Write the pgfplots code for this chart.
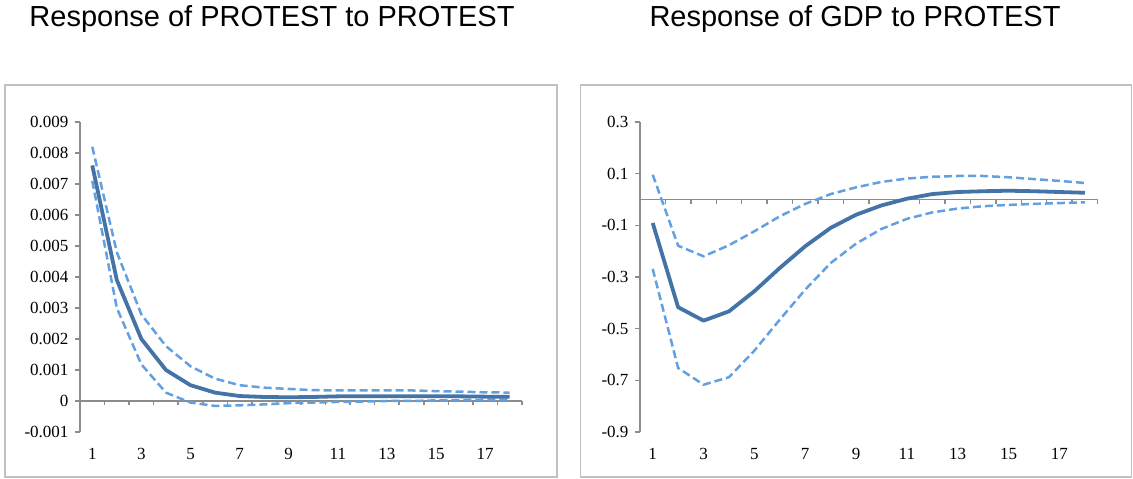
\documentclass[border=0pt]{standalone}
\usepackage{pgfplots}
\pgfplotsset{compat=1.18}
\usepackage{fontspec}
\setmainfont{Liberation Sans}
\newfontfamily\tickfont{Liberation Serif}
\definecolor{mainblue}{RGB}{68,115,168}
\definecolor{bandblue}{RGB}{98,160,224}
\definecolor{axgray}{RGB}{140,140,140}
\definecolor{framegray}{RGB}{192,192,192}
\begin{document}
\begin{tikzpicture}
\useasboundingbox (0pt,0pt) rectangle (1133pt,479pt);
\draw[framegray, line width=1.5pt] (5pt,2pt) rectangle (557pt,394pt);
\draw[framegray, line width=1.5pt] (580.5pt,2pt) rectangle (1131.5pt,394pt);
\node[anchor=base, font=\fontsize{29}{29}\selectfont] at (272pt,452pt) {Response of PROTEST to PROTEST};
\node[anchor=base, font=\fontsize{29}{29}\selectfont] at (855pt,452pt) {Response of GDP to PROTEST};
\pgfplotsset{
  myirf/.style={
    scale only axis,
    anchor=south west,
    xmin=0.5, xmax=18.5,
    axis y line*=left,
    axis x line*=bottom,
    x axis line style={draw=none},
    y axis line style={axgray, line width=1.5pt},
    xtick={1,3,5,7,9,11,13,15,17},
    xticklabels={1,3,5,7,9,11,13,15,17},
    scaled y ticks=false,
    tick align=outside,
    major tick length=5pt,
    every tick/.style={axgray, line width=1.5pt},
    every major x tick/.append style={draw=none},
    tick label style={font=\tickfont\fontsize{17}{17}\selectfont, text=black},
    yticklabel style={xshift=-3pt},
    xticklabel style={yshift=-8pt},
    clip=false,
  },
  mainline/.style={mainblue, line width=3.8pt, line join=round, mark=none},
  bandline/.style={bandblue, line width=2.5pt, dash pattern=on 8pt off 4pt, mark=none},
}
\begin{axis}[myirf, at={(80pt,47pt)}, width=442pt, height=310pt,
  ymin=-0.001, ymax=0.009,
  ytick={-0.001,0,0.001,0.002,0.003,0.004,0.005,0.006,0.007,0.008,0.009},
  yticklabels={-0.001,0,0.001,0.002,0.003,0.004,0.005,0.006,0.007,0.008,0.009},
]
\draw[axgray, line width=1.5pt] (axis cs:0.5,0) -- (axis cs:18.5,0);
\pgfplotsinvokeforeach{1.5,2.5,3.5,4.5,5.5,6.5,7.5,8.5,9.5,10.5,11.5,12.5,13.5,14.5,15.5,16.5,17.5,18.5}{
  \draw[axgray, line width=1.5pt] (axis cs:#1,0) -- ++(0pt,-4.5pt);
}
\addplot[bandline] coordinates {(1,0.0082)(2,0.0048)(3,0.00279)(4,0.00177)(5,0.00112)(6,0.00072)(7,0.00051)(8,0.00043)(9,0.00039)(10,0.00035)(11,0.00034)(12,0.00034)(13,0.00034)(14,0.00034)(15,0.00032)(16,0.00030)(17,0.00028)(18,0.00027)};
\addplot[bandline] coordinates {(1,0.0071)(2,0.0030)(3,0.00118)(4,0.00027)(5,-0.00005)(6,-0.00016)(7,-0.00014)(8,-0.00011)(9,-0.00007)(10,-0.00005)(11,-0.00003)(12,-0.00002)(13,0.0)(14,0.0)(15,0.00002)(16,0.00003)(17,0.00004)(18,0.00005)};
\addplot[mainline] coordinates {(1,0.0076)(2,0.0039)(3,0.0020)(4,0.0010)(5,0.00051)(6,0.00027)(7,0.00016)(8,0.00013)(9,0.00012)(10,0.00013)(11,0.00015)(12,0.00015)(13,0.00015)(14,0.00015)(15,0.00015)(16,0.00015)(17,0.00014)(18,0.00014)};
\end{axis}
\begin{axis}[myirf, at={(640pt,47pt)}, width=457.5pt, height=310pt,
  ymin=-0.9, ymax=0.3,
  ytick={-0.9,-0.7,-0.5,-0.3,-0.1,0.1,0.3},
  yticklabels={-0.9,-0.7,-0.5,-0.3,-0.1,0.1,0.3},
]
\draw[axgray, line width=1.5pt] (axis cs:0.5,0) -- (axis cs:18.5,0);
\pgfplotsinvokeforeach{1.5,2.5,3.5,4.5,5.5,6.5,7.5,8.5,9.5,10.5,11.5,12.5,13.5,14.5,15.5,16.5,17.5,18.5}{
  \draw[axgray, line width=1.5pt] (axis cs:#1,0) -- ++(0pt,-4.5pt);
}
\addplot[bandline] coordinates {(1,0.096)(2,-0.179)(3,-0.220)(4,-0.177)(5,-0.123)(6,-0.065)(7,-0.017)(8,0.021)(9,0.047)(10,0.068)(11,0.081)(12,0.088)(13,0.091)(14,0.091)(15,0.086)(16,0.079)(17,0.072)(18,0.064)};
\addplot[bandline] coordinates {(1,-0.269)(2,-0.652)(3,-0.717)(4,-0.688)(5,-0.585)(6,-0.465)(7,-0.349)(8,-0.246)(9,-0.171)(10,-0.114)(11,-0.075)(12,-0.050)(13,-0.035)(14,-0.026)(15,-0.021)(16,-0.017)(17,-0.014)(18,-0.011)};
\addplot[mainline] coordinates {(1,-0.091)(2,-0.417)(3,-0.469)(4,-0.433)(5,-0.355)(6,-0.265)(7,-0.181)(8,-0.110)(9,-0.059)(10,-0.023)(11,0.003)(12,0.021)(13,0.029)(14,0.032)(15,0.034)(16,0.032)(17,0.029)(18,0.026)};
\end{axis}
\end{tikzpicture}
\end{document}
